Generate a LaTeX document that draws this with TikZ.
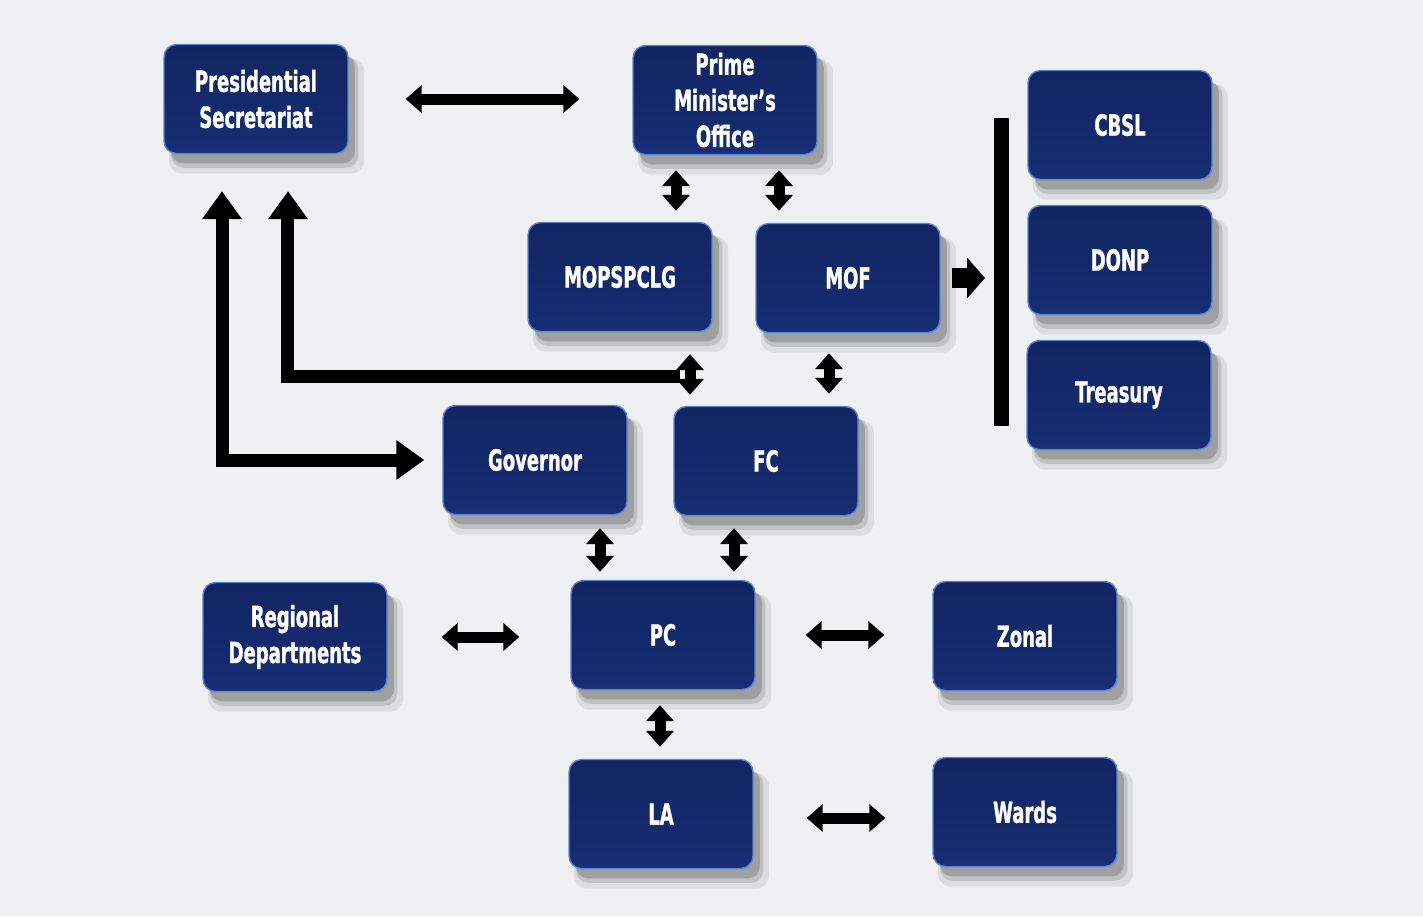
\documentclass[tikz,border=0pt]{standalone}
\usepackage{fontspec}
\usepackage{xcolor}
\usepackage{tikz}
\usetikzlibrary{arrows.meta,shadows}
\newfontfamily\blokfont{DejaVu Sans}[FakeStretch=0.62,FakeBold=1.2]
\definecolor{pozadina}{RGB}{239,240,242}
\definecolor{blokplava}{RGB}{22,46,116}
\definecolor{bloktamna}{RGB}{18,36,98}
\definecolor{blokrub}{RGB}{90,130,215}

\begin{document}
\begin{tikzpicture}[
    x=0.02cm, y=-0.02cm,
    blok/.style={rectangle,rounded corners=0.25cm,draw=blokrub,line width=0.8pt,
                 minimum width=3.68cm,minimum height=2.18cm,align=center,
                 top color=bloktamna,bottom color=blokplava,
                 text=white,font=\blokfont\bfseries\fontsize{16.5}{20.5}\selectfont,
                 drop shadow={shadow xshift=0.2cm,shadow yshift=-0.32cm,opacity=0.08,fill=black,shadow scale=1.06},
                 drop shadow={shadow xshift=0.17cm,shadow yshift=-0.26cm,opacity=0.12,fill=black,shadow scale=1.02},
                 drop shadow={shadow xshift=0.14cm,shadow yshift=-0.2cm,opacity=0.18,fill=black}},
    dvo/.style={{Triangle[width=0.54cm,length=0.32cm]}-{Triangle[width=0.54cm,length=0.32cm]},
                line width=0.22cm},
    duga/.style={line width=0.26cm},
    vrh/.tip={Triangle[width=0.76cm,length=0.56cm]},
    debela/.style={-{Triangle[width=0.8cm,length=0.36cm]},line width=0.4cm}
]
\useasboundingbox (0,0) rectangle (1423,916);
\fill[pozadina] (0,0) rectangle (1423,916);

% gornji red
\node[blok] (ps) at (256,99) {Presidential\\Secretariat};
\node[blok] (pmo) at (725,100) {Prime\\Minister’s\\Office};
\node[blok] (cbsl) at (1120,125) {CBSL};
\node[blok] (donp) at (1120,260) {DONP};
\node[blok] (tres) at (1119,395) {Treasury};
\node[blok] (mop) at (620,277) {MOPSPCLG};
\node[blok] (mof) at (848,278) {MOF};
\node[blok] (gov) at (535,460) {Governor};
\node[blok] (fc) at (766,461) {FC};
% donji red
\node[blok] (rd) at (295,637) {Regional\\Departments};
\node[blok] (pc) at (663,635) {PC};
\node[blok] (zon) at (1025,636) {Zonal};
\node[blok] (la) at (661,814) {LA};
\node[blok] (wards) at (1025,812) {Wards};

\coordinate (stubT) at (1001,118);
\coordinate (stubB) at (1001,426);
\coordinate (spoj) at (680,376);

\draw[line width=0.3cm] (stubT) -- (stubB);
\draw[debela,shorten <=0.22cm,shorten >=0.32cm] (mof.east) -- (stubT |- mof.east);

\draw[dvo,shorten <=1.14cm,shorten >=1.06cm] (ps.east) -- (pmo.west |- ps.east);
\draw[dvo,shorten <=0.3cm,shorten >=0.22cm] (pmo.south -| 676,0) -- (mop.north -| 676,0);
\draw[dvo,shorten <=0.3cm,shorten >=0.24cm] (pmo.south -| 779,0) -- (mof.north -| 779,0);
\draw[dvo,shorten <=0.44cm,shorten >=0.22cm] (mop.south -| 690,0) -- (fc.north -| 690,0);
\draw[dvo,shorten <=0.4cm,shorten >=0.24cm] (mof.south -| 829,0) -- (fc.north -| 829,0);
\draw[dvo,shorten <=0.26cm,shorten >=0.16cm] (gov.south -| 600,0) -- (pc.north -| 600,0);
\draw[dvo,shorten <=0.24cm,shorten >=0.16cm] (fc.south -| 734,0) -- (pc.north -| 734,0);
\draw[dvo,shorten <=0.3cm,shorten >=0.24cm] (pc.south -| 660,0) -- (la.north -| 660,0);
\draw[dvo,shorten <=1.08cm,shorten >=1.02cm] (rd.east) -- (pc.west |- rd.east);
\draw[dvo,shorten <=1.0cm,shorten >=0.96cm] (pc.east) -- (zon.west |- pc.east);
\draw[dvo,shorten <=1.06cm,shorten >=0.94cm] (la.east |- 0,818) -- (wards.west |- 0,818);

\draw[duga,-vrh,shorten >=0.74cm] (spoj) -| ([xshift=0.64cm]ps.south);
\draw[duga,vrh-vrh,shorten <=0.74cm,shorten >=0.36cm] ([xshift=-0.68cm]ps.south) |- (gov.west);
\end{tikzpicture}
\end{document}
